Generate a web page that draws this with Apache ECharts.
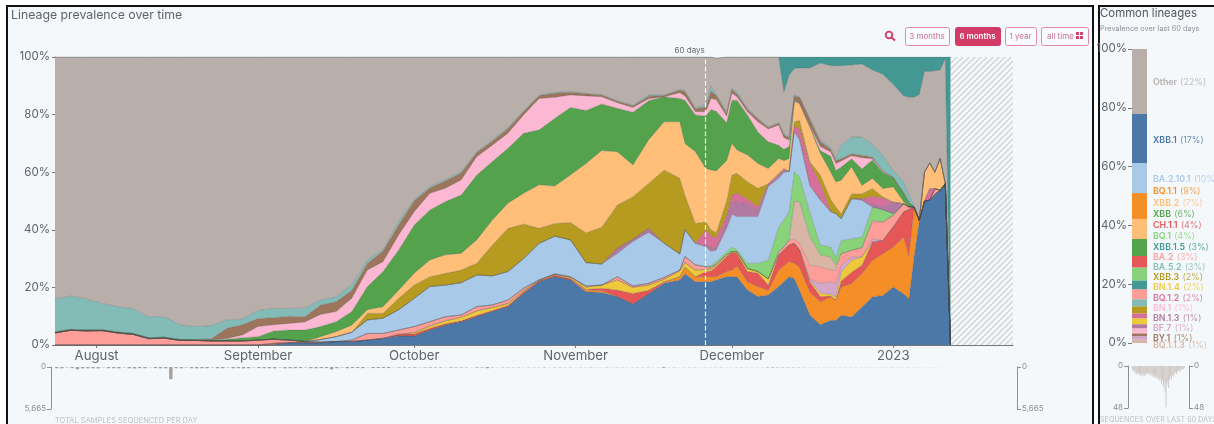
<!DOCTYPE html>
<html>
<head>
<meta charset="utf-8">
<title>Lineage prevalence over time</title>
<script src="https://cdn.jsdelivr.net/npm/echarts@6/dist/echarts.min.js"></script>
<style>
  html, body { margin: 0; padding: 0; background: #fff; overflow: hidden; }
  .panel { position: absolute; top: 5px; height: 430px; box-sizing: border-box; background: #f4f8fb; border: 2px solid #111; }
  #chart { position: absolute; left: 0; top: 0; width: 1214px; height: 424px; }
</style>
</head>
<body>
<div class="panel" style="left:6px; width:1088px"></div>
<div class="panel" style="left:1098px; width:130px"></div>
<div id="chart"></div>
<script>
const FONT = 'Inter, "Noto Sans", sans-serif'

const dates = [
  '2022-07-24','2022-07-27','2022-07-30','2022-08-02','2022-08-05','2022-08-08','2022-08-11','2022-08-14','2022-08-17','2022-08-20',
  '2022-08-23','2022-08-26','2022-08-29','2022-09-01','2022-09-04','2022-09-07','2022-09-10','2022-09-13','2022-09-16','2022-09-19',
  '2022-09-22','2022-09-25','2022-09-28','2022-10-01','2022-10-04','2022-10-07','2022-10-10','2022-10-13','2022-10-16','2022-10-19',
  '2022-10-22','2022-10-25','2022-10-28','2022-10-31','2022-11-03','2022-11-06','2022-11-09','2022-11-12','2022-11-15','2022-11-18',
  '2022-11-21','2022-11-22','2022-11-24','2022-11-26','2022-11-27','2022-11-28','2022-11-30','2022-12-01','2022-12-02','2022-12-04',
  '2022-12-06','2022-12-08','2022-12-10','2022-12-11','2022-12-12','2022-12-13','2022-12-14','2022-12-16','2022-12-18','2022-12-20',
  '2022-12-21','2022-12-22','2022-12-24','2022-12-26','2022-12-28','2022-12-30','2023-01-01','2023-01-03','2023-01-04','2023-01-05',
  '2023-01-06','2023-01-07','2023-01-08','2023-01-09','2023-01-10','2023-01-11','2023-01-12'
]

// prevalence per lineage in %, bottom of the stack first
const xbb1 = [
  0,0,0,0,0,0,0,0,0,0,
  0,0,0,0,.2,.8,.8,.8,1.2,1.2,
  1.7,2.3,3.1,3.1,5.2,6.9,8.1,9.8,11.6,13.3,
  17.9,22,23.7,22.6,18.5,18.2,16.8,14.2,17.7,21.4,
  22.6,24.7,22,22,22,22.6,23.7,23.7,23.7,19.1,
  16.8,17.4,20.3,22,23.7,23.1,19,10.4,7,8.6,
  8.6,10.3,9.7,13.2,16.7,17.2,20.1,17.8,16,30.6,
  43,50,50.2,52.3,53.7,56,0
]
const bq11 = [
  0,0,0,0,0,0,0,0,0,0,
  0,0,0,0,0,0,0,0,0,0,
  0,0,0,0,0,0,0,0,0,0,
  0,0,0,0,.5,.7,0,0,0,.3,
  1.1,2.3,1.7,1.7,1.7,1.1,1.8,2.3,3.7,2.9,
  3.5,1.6,5.7,5.5,5.3,5.3,8,7.9,8,8.1,
  6.9,9.8,11.6,11.6,12.7,14.5,13.9,19.7,15,16.7,
  .3,0,0,0,0,0,0
]
const ch11 = [
  0,0,0,0,0,0,0,0,0,0,
  0,0,0,0,.4,0,0,0,0,0,
  0,0,.6,.8,.6,.5,.3,.5,.4,.4,
  .6,.3,.6,.5,.3,.8,2.3,3.7,1.3,.3,
  0,0,0,1.8,2,3.5,5.2,6.1,4.4,3.5,
  4.7,1.8,5.2,5.5,5.7,6.9,6,3.6,1.8,.3,
  .2,2.1,4,2.9,6.4,4.6,7,8.7,16,.6,
  0,0,0,0,0,0,0
]
const bn14 = [
  0,0,0,0,0,0,0,0,0,0,
  0,0,0,0,0,0,0,0,0,0,
  0,0,0,.4,.8,1,1.2,1.5,1,.7,
  .4,.2,.2,.4,.8,1.1,3.5,2.1,1.8,.8,
  2,1.6,2.3,.7,.7,.5,.5,.3,.5,1.1,
  .5,2.2,0,0,0,0,0,.5,1.2,.6,
  1,3.1,4.1,2.9,0,0,0,0,0,0,
  0,0,0,0,0,0,0
]
const bf7 = [
  0,0,0,0,0,0,0,0,0,0,
  0,0,0,0,0,0,0,0,0,0,
  0,0,0,0,0,0,0,0,0,0,
  0,0,0,0,0,0,0,0,0,0,
  0,0,0,0,0,0,0,0,0,0,
  0,0,0,0,0,0,0,.5,3.4,4.3,
  4.6,2.4,1.2,0,1.1,0,0,0,0,0,
  0,0,0,0,0,0,0
]
const ba2 = [
  4.2,5.1,4.9,5,4.2,3.7,2.2,2.4,1.6,1.6,
  1.4,1.4,1.4,1.7,1.4,.9,.4,.3,0,.5,
  2.3,1.7,1.5,2.1,1.5,1.4,.8,1.5,.9,1.2,
  .8,.1,.2,.2,.4,0,1.1,.5,.6,.7,
  .3,2.1,1.8,1,.6,.4,.2,0,0,0,
  0,0,1.2,1,1.8,1.4,2.5,4.9,5.8,4.1,
  4.6,4,2.3,3.2,5.9,6.4,4,2.8,1,0,
  0,0,.1,2,0,0,0
]
const bq113 = [
  0,0,0,0,0,0,0,0,0,0,
  0,0,0,0,0,0,0,0,0,0,
  0,0,0,0,0,0,0,0,0,0,
  0,0,0,0,0,0,0,0,0,0,
  0,0,0,0,0,0,0,0,0,0,
  0,0,0,0,0,13.1,14.3,9.7,4.1,4.5,
  1.8,0,0,0,.5,0,0,0,0,0,
  0,0,0,0,0,0,0
]
const bq1 = [
  0,0,0,0,0,0,0,0,0,0,
  0,0,0,0,0,0,0,0,0,0,
  0,0,0,0,0,0,0,0,0,0,
  0,0,0,0,0,0,0,0,0,0,
  0,0,0,0,.6,.8,1,1.6,.7,1.8,
  2.9,6.5,8.6,9.5,9.8,10.4,8.6,8.5,3.4,3.5,
  2.8,4.6,4,3.7,4.6,4.3,.6,0,0,0,
  0,0,0,0,0,0,0
]
const ba2101 = [
  0,0,0,0,0,0,0,0,0,0,
  0,0,0,0,0,0,0,.8,1.7,2.7,
  4.7,5.3,7,9.8,12.2,11,11.2,11,10.1,9.9,
  10.3,12.7,13.1,12.8,8.1,7.3,8.1,15.4,17.7,11.8,
  5.6,9.3,7.5,6.9,4.9,4.1,8.1,11.3,11.6,16.2,
  16.2,25.5,16.9,16.5,13.9,13.8,12.8,9.2,15.6,12.2,
  15.1,7.6,13.9,12.7,0,0,0,0,0,0,
  0,0,0,0,0,0,0
]
const bn13 = [
  0,0,0,0,0,0,0,0,0,0,
  0,0,0,0,0,0,0,0,0,0,
  0,0,0,0,0,0,0,0,0,0,
  0,0,0,0,0,0,1.8,.8,1.4,0,
  0,0,0,.5,1.5,.6,3,4.5,5,4.5,
  2,.5,.6,.6,0,.5,.5,.3,.3,.1,
  0,0,0,.6,1.1,1,4,0,0,0,
  0,0,0,0,0,0,0
]
const bq12 = [
  0,0,0,0,0,0,0,0,0,0,
  0,0,0,0,0,0,0,0,0,0,
  0,0,0,0,0,0,0,0,0,0,
  0,0,0,0,0,0,0,0,0,0,
  0,0,0,5.3,4,3.6,1.5,2.2,3.2,1.5,
  1.4,.5,.6,.6,0,1.5,3.5,7.5,5.5,.2,
  0,0,0,0,2.6,3,0,0,0,0,
  0,0,4,0,0,0,0
]
const xbb3 = [
  0,0,0,0,0,0,0,0,0,0,
  0,0,0,0,0,0,0,0,0,0,
  2.3,1.7,4,4.6,3.4,4.1,4.4,4.1,10.7,15,
  12,5.2,4.4,6,10.4,12.8,15,14.8,15.6,25.5,
  26.3,12,6.9,2.9,2,1.8,5,7,6.8,6.1,
  6.4,0,.5,0,0,1.5,2.8,.6,2.9,4,
  2.3,1.7,1.7,1.7,2.7,.5,0,0,0,0,
  0,0,0,0,0,0,0
]
const xbb2 = [
  0,0,0,0,0,0,0,0,0,0,
  0,0,0,0,0,0,0,1,1.7,2.5,
  1.2,2.3,2.8,4.1,5.8,6.4,5.8,8.1,8.7,8.7,
  10.7,15.1,13,16.5,24,26.6,18.5,11,15.1,16.7,
  19.6,18,24.9,18.5,20.8,21.4,14,11,8.1,9.3,
  8.6,5.3,5.2,2.8,4.6,7,5.9,11.9,7.5,9.5,
  8.7,11.6,9.3,2.9,3.5,2.8,5.3,.7,0,0,
  0,10,8.9,5.7,11,0,0
]
const xbb = [
  .3,.3,.3,.3,.3,.3,.3,.3,.3,.3,
  .4,.6,1.1,1.2,2.9,3.5,4,3.5,3.5,4.7,
  8.1,12.2,14,16.8,17.4,18.5,20.3,22.5,20.3,19.1,
  20.8,19.1,23.5,23.5,18.4,16.2,15.1,18.3,13.6,8.7,
  8.1,15,12.8,18.2,21,20.8,13.2,15,17.3,13.9,
  11,9.3,4.6,4,4.1,.2,.1,.3,1,5.5,
  4,4.6,2.9,5.8,6.4,5.7,3.1,2.8,1.5,0,
  0,0,0,0,0,0,0
]
const bn1 = [
  0,0,0,0,0,0,0,0,0,0,
  0,.3,1,3.5,2.1,2.3,2.8,4.2,3.5,4.6,
  5.7,3.4,5.2,4.6,5.8,4.6,5.2,6.4,5.7,5.2,
  6.4,10.9,7.3,4.3,5.1,2.5,1.9,1.7,.7,0,
  2,1.5,1.1,1.5,3.8,4,2.3,2.4,1.2,1.1,
  3.5,4.4,7,4,2.3,.3,0,.2,1.4,1.5,
  2.4,2.1,1,3.8,.5,.3,0,0,0,0,
  0,0,0,0,0,0,0
]
const by1 = [
  0,0,0,0,0,0,0,0,0,0,
  .4,3.5,3.5,2.8,2.5,2.5,1.8,3.3,3.4,2.8,
  2.4,3.7,3.5,3.8,1.8,2.6,2.4,1.4,1.4,1.7,
  1.2,1,1.4,1,.7,.6,.5,.6,.9,.4,
  .9,1.5,1,1.7,2.6,1.5,1,1.3,1,.9,
  1,.5,.6,1,.8,1.5,2,2.3,1.8,1,
  1.1,.8,.7,.9,.6,.3,.3,.5,0,0,
  0,0,0,0,0,0,0
]
const ba52 = [
  11.5,11.6,10.8,9.2,8.8,8.7,7.3,7.1,5.1,4.5,
  4.5,2.9,2,2.8,3.2,2.7,3,1.7,1.8,1.8,
  1.1,.6,1.1,.5,.5,.5,.5,.3,.4,.4,
  .2,.2,.3,.2,.2,.2,.2,.2,.4,.2,
  .3,.3,.2,1,1.8,.3,.5,.3,.8,.2,
  .2,.2,.2,.5,0,.3,.2,.2,.5,.5,
  .6,4.6,5.8,6.3,4.4,5.3,2.3,3.6,2.5,.6,
  .2,0,0,0,0,0,0
]
const other = [
  84,83,84,85.5,86.7,87.3,90.2,90.2,93,93.6,
  93.3,91.3,91,88,87.3,87.3,87.2,84.4,83.2,79.2,
  70.5,66.8,57.2,49.4,45,42.5,39.8,32.9,28.8,24.4,
  18.7,13.2,12.3,12,12.6,13,15.2,16.7,13.2,13.2,
  11.2,11.7,17.8,16.3,10,12.6,19,11,12,17.9,
  21.3,24.3,22.8,14.3,21.7,9.2,10,17.7,26.7,28.5,
  32.3,27.7,25,25.4,25.8,28.1,29.9,29.9,34.1,37.5,
  43.5,35,31.8,35.2,30.8,43.5,0
]
const xbb15 = [
  0,0,0,0,0,0,0,0,0,0,
  0,0,0,0,0,0,0,0,0,0,
  0,0,0,0,0,0,0,0,0,0,
  0,0,0,0,0,0,0,0,0,0,
  0,0,0,0,0,0,0,0,0,0,
  0,0,0,12.2,6.3,4,3.8,3.8,2.1,3,
  3,3,2.8,2.4,4.5,6,9.5,13.5,13.9,14,
  13,5,5,4.8,4.5,.5,100
]

const stackNames = ['XBB.1','BQ.1.1','CH.1.1','BN.1.4','BF.7','BA.2','BQ.1.1.3','BQ.1','BA.2.10.1','BN.1.3','BQ.1.2','XBB.3','XBB.2','XBB','BN.1','BY.1','BA.5.2','Other','XBB.1.5']
const stackValues = [xbb1, bq11, ch11, bn14, bf7, ba2, bq113, bq1, ba2101, bn13, bq12, xbb3, xbb2, xbb, bn1, by1, ba52, other, xbb15]
const stackColours = ['#4c78a8','#f58e26','#e45756','#eeca3b','#d4a6c8','#ff9d98','#d8b5a5','#88d27a','#a9c9e8','#b279a2','#d6709b','#b79a20','#ffbf79','#54a24b','#fcb8d2','#9d755d','#83bcb6','#b8aeaa','#439894']

const monthTicks = ['2022-08-01','2022-09-01','2022-10-01','2022-11-01','2022-12-01','2023-01-01']
const monthLabels = ['August','September','October','November','December','2023']

// samples sequenced per day, from 24 Jul
const samplesStart = '2022-07-24'
const samplesPerDay = [
  170,180,60,160,320,190,170,175,185,50,
  170,165,180,60,175,190,160,170,40,150,
  180,170,1640,160,175,60,170,180,165,170,
  50,165,170,60,175,160,180,170,50,150,
  170,165,175,60,180,160,170,150,60,165,
  170,160,150,330,160,60,170,150,140,160,
  50,150,140,130,150,40,90,80,70,90,
  40,80,90,70,80,30,90,80,70,60,
  30,80,70,170,60,30,50,60,40,50,
  20,50,40,30,50,20,40,50,30,40,
  20,40,30,50,30,20,40,30,40,30,
  20,30,40,30,40,20,30,110,30,40,
  20,30,40,30,20,20,30,30,40,20,
  20,30,40,20,30,20,30,60,70,50,
  50,60,50,40,30,20,30,20,30,20,
  20,30,20,20,30,20,20,30,20,20,
  20,30,20,20,30,20,20,20,10,20,
  10,10
]

// the "last 60 days" summary on the right
const commonNames = ['Other','XBB.1','BA.2.10.1','BQ.1.1','XBB.2','XBB','CH.1.1','BQ.1','XBB.1.5','BA.2','BA.5.2','XBB.3','BN.1.4','BQ.1.2','BN.1','BN.1.3','BF.7','BY.1','BQ.1.1.3']
const commonShares = [22,17,10,9,7,6,4,4,3,3,3,2,2,2,1,1,1,1,1]
const commonColours = ['#b8aeaa','#4c78a8','#a9c9e8','#f58e26','#ffbf79','#54a24b','#e45756','#88d27a','#439894','#ff9d98','#83bcb6','#b79a20','#eeca3b','#d6709b','#fcb8d2','#b279a2','#d4a6c8','#9d755d','#d8b5a5']
const barOrder = ['BQ.1.1.3','BF.7','BY.1','BN.1','BN.1.3','BN.1.4','BQ.1.2','XBB.3','BA.5.2','BA.2','XBB.1.5','BQ.1','CH.1.1','XBB','XBB.2','BQ.1.1','BA.2.10.1','XBB.1','Other']
const barValues = [1.1,1.2,1,1.7,1.4,2,1.7,2.4,2.4,3.4,3,4.4,3.9,5.8,6.8,8.8,10.2,16.7,22.1]
const recentSamples = [
  4,6,7,5,9,8,10,7,9,11,
  10,8,12,9,11,10,8,9,7,10,
  9,11,8,12,10,13,11,14,12,15,
  13,17,14,20,16,24,19,30,47,22,
  18,25,15,12,16,11,9,12,8,7,
  9,6,5,7,4,5,3,4,3,2
]

const buttonLabels = ['3 months', '6 months', '1 year', 'all time']
const labelRowY = [82,140,179,191,203,214,225,236,247,257,267,277,287,298,308,318,328,338,345]
const DAY = 86400000
const ts = (s) => Date.parse(s)
const textGray = '#5d646c'

const hatch = () => {
  const c = document.createElement('canvas')
  c.width = 6
  c.height = 6
  const g = c.getContext('2d')
  g.strokeStyle = '#d3d4d5'
  g.lineWidth = 1.5
  g.beginPath()
  g.moveTo(-1, 1); g.lineTo(1, -1)
  g.moveTo(0, 6); g.lineTo(6, 0)
  g.moveTo(5, 7); g.lineTo(7, 5)
  g.stroke()
  return c
}

const bracketAxis = (grid, position, max, labels) => ({
  type: 'value', gridIndex: grid, position, inverse: true, min: 0, max, interval: max,
  offset: 4,
  splitLine: { show: false },
  axisLine: { show: true, onZero: false, lineStyle: { color: '#8b8f94', width: 1 } },
  axisTick: { show: true, length: 4, lineStyle: { color: '#8b8f94' } },
  axisLabel: { show: true, fontFamily: FONT, fontSize: 8, color: '#8a8f95', margin: 5, formatter: (v) => (v === 0 ? '0' : labels) }
})

const text = (x, y, style) => ({ type: 'text', x, y, silent: true, style: Object.assign({ fontFamily: FONT, verticalAlign: 'middle' }, style) })

const buildGraphics = () => {
  const items = [
    text(11, 15, { text: 'Lineage prevalence over time', fontSize: 12.3, fill: textGray }),
    text(1100, 14, { text: 'Common lineages', fontSize: 11.4, fill: '#50565e' }),
    text(1100, 29, { text: 'Prevalence over last 60 days', fontSize: 7.3, fill: '#8e9298' }),
    text(55, 421, { text: 'TOTAL SAMPLES SEQUENCED PER DAY', fontSize: 7.5, fill: '#bcbfc3' }),
    text(1100, 420, { text: 'SEQUENCES OVER LAST 60 DAYS', fontSize: 7.2, fill: '#bcbfc3' })
  ]
  const boxes = [[905, 44], [955, 45], [1005, 31], [1041, 47]]
  boxes.forEach(([x, w], i) => {
    const active = i === 1
    items.push({
      type: 'rect', silent: true,
      shape: { x: x + 0.5, y: 27.5, width: w, height: 18, r: 2 },
      style: { fill: active ? '#d13b66' : '#f8fafc', stroke: active ? '#d13b66' : '#dd8ba6', lineWidth: 1 }
    })
    items.push(text(i === 3 ? x + 6 : x + w / 2, 36.5, {
      text: buttonLabels[i], fontSize: 8, align: i === 3 ? 'left' : 'center',
      fill: active ? '#fff' : '#c9739a', fontWeight: active ? 600 : 400
    }))
  })
  // zoom glass
  items.push({ type: 'circle', silent: true, shape: { cx: 889, cy: 35, r: 3.3 }, style: { fill: 'none', stroke: '#d13b66', lineWidth: 1.8 } })
  items.push({ type: 'line', silent: true, shape: { x1: 891.5, y1: 37.5, x2: 895, y2: 40.5 }, style: { stroke: '#d13b66', lineWidth: 2 } })
  // the "all time" corners
  ;[[1076, 32], [1080, 32], [1076, 36], [1080, 36]].forEach(([x, y]) => {
    items.push({ type: 'rect', silent: true, shape: { x, y, width: 3, height: 3 }, style: { fill: '#c9466f' } })
  })
  commonNames.forEach((name, i) => {
    const c = commonColours[i]
    items.push(text(1153, labelRowY[i], {
      text: `{n|${name}} {p|(${commonShares[i]}%)}`,
      rich: {
        n: { fontFamily: FONT, fontSize: 8.8, fontWeight: 600, fill: c },
        p: { fontFamily: FONT, fontSize: 8.8, fill: c, opacity: 0.8 }
      }
    }))
  })
  return items
}

const buildOption = () => {
  const xStart = ts('2022-07-24')
  const xEnd = ts('2023-01-24')
  const tickValues = monthTicks.map(ts)
  const areas = stackNames.map((name, i) => ({
    name,
    type: 'line',
    stack: 'prevalence',
    xAxisIndex: 0,
    yAxisIndex: 0,
    showSymbol: false,
    silent: true,
    lineStyle: { width: 1, color: 'rgba(70,70,70,0.24)' },
    areaStyle: { color: stackColours[i], opacity: 1 },
    data: dates.map((d, k) => [ts(d), stackValues[i][k]])
  }))
  areas[areas.length - 1].markArea = {
    silent: true,
    itemStyle: { color: { image: hatch(), repeat: 'repeat' } },
    data: [[{ xAxis: ts('2023-01-12') }, { xAxis: xEnd }]]
  }
  areas[areas.length - 1].markLine = {
    silent: true,
    symbol: 'none',
    lineStyle: { color: '#fff', type: 'dashed', width: 1.2, opacity: 0.9 },
    label: { position: 'end', formatter: '60 days', fontFamily: FONT, fontSize: 8, color: '#555', align: 'right', distance: [0, 2] },
    data: [{ xAxis: ts('2022-11-25') + 0.8 * DAY }]
  }
  const barSeries = barOrder.map((name, i) => ({
    name,
    type: 'bar',
    stack: 'common',
    xAxisIndex: 2,
    yAxisIndex: 3,
    barWidth: '100%',
    silent: true,
    itemStyle: { color: commonColours[commonNames.indexOf(name)] },
    data: [barValues[i]]
  }))
  return {
    animation: false,
    useUTC: true,
    textStyle: { fontFamily: FONT },
    grid: [
      { left: 55, top: 57, width: 958, height: 288 },
      { left: 55, top: 367, width: 958, height: 42 },
      { left: 1132, top: 49, width: 15, height: 294 },
      { left: 1132, top: 366, width: 53, height: 42 }
    ],
    xAxis: [
      // the time axis carries the stack, the value axis below it only draws the month ticks
      {
        type: 'time', gridIndex: 0, min: xStart, max: xEnd,
        splitLine: { show: false },
        axisLine: { lineStyle: { color: '#777' } },
        axisTick: { show: false },
        axisLabel: { show: false }
      },
      { type: 'time', gridIndex: 1, min: xStart, max: xEnd, show: false, splitLine: { show: false } },
      { type: 'category', gridIndex: 2, data: ['share'], show: false },
      { type: 'category', gridIndex: 3, data: recentSamples.map((v, i) => i), show: false },
      {
        type: 'value', gridIndex: 0, min: xStart, max: xEnd, position: 'bottom',
        splitLine: { show: false },
        axisLine: { show: false },
        axisTick: { show: true, length: 3, lineStyle: { color: '#777' }, customValues: tickValues },
        axisLabel: {
          customValues: tickValues, fontFamily: FONT, fontSize: 13.2, color: textGray, margin: 5,
          formatter: (v) => monthLabels[tickValues.indexOf(v)]
        }
      }
    ],
    yAxis: [
      {
        type: 'value', gridIndex: 0, min: 0, max: 100, interval: 20,
        splitLine: { show: false },
        axisLine: { show: true, lineStyle: { color: '#777' } },
        axisTick: { show: true, length: 3, lineStyle: { color: '#777' } },
        axisLabel: { fontFamily: FONT, fontSize: 11.5, color: textGray, margin: 5, formatter: '{value}%' }
      },
      bracketAxis(1, 'left', 5665, '5,665'),
      bracketAxis(1, 'right', 5665, '5,665'),
      {
        type: 'value', gridIndex: 2, min: 0, max: 100, interval: 20,
        splitLine: { show: false },
        axisLine: { show: false },
        axisTick: { show: true, length: 4, lineStyle: { color: '#777' } },
        axisLabel: { fontFamily: FONT, fontSize: 11.5, color: textGray, margin: 5, formatter: '{value}%' }
      },
      bracketAxis(3, 'left', 48, '48'),
      bracketAxis(3, 'right', 48, '48')
    ],
    series: [
      ...areas,
      {
        type: 'bar', xAxisIndex: 1, yAxisIndex: 1, barWidth: 3.4, silent: true,
        itemStyle: { color: '#a8a09c' },
        data: samplesPerDay.map((v, i) => [ts(samplesStart) + i * DAY, v])
      },
      ...barSeries,
      {
        type: 'bar', xAxisIndex: 3, yAxisIndex: 4, barWidth: '70%', silent: true,
        itemStyle: { color: '#cfc9c5' },
        data: recentSamples
      }
    ],
    graphic: buildGraphics()
  }
}

const chart = echarts.init(document.getElementById('chart'), null, { renderer: 'canvas' })
chart.setOption(buildOption())
</script>
</body>
</html>
